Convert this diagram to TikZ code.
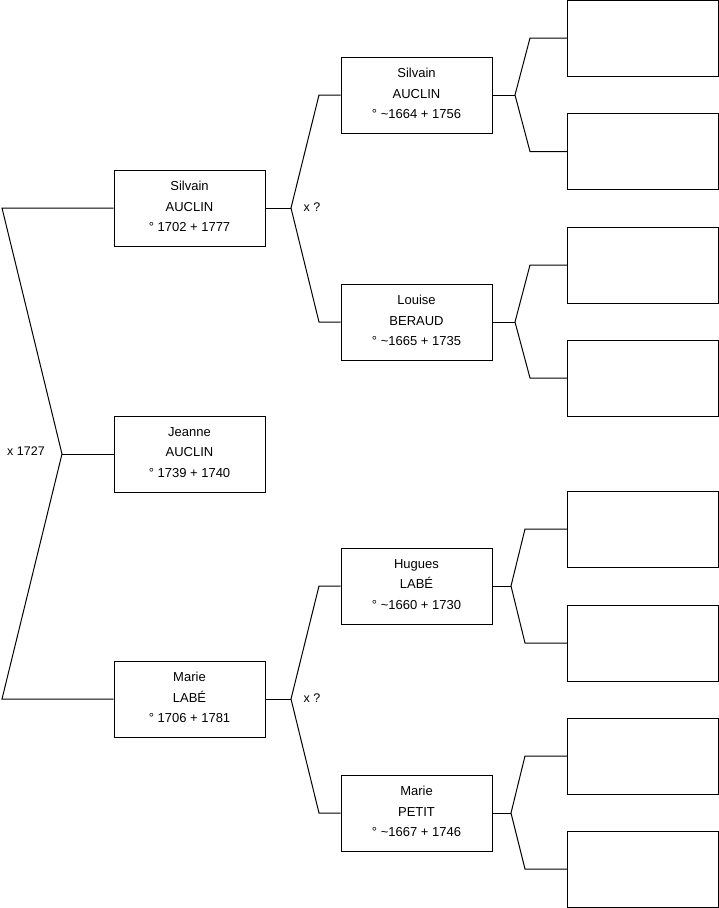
\documentclass[tikz,border=0pt]{standalone}
\usepackage{fontspec}
\setmainfont{Liberation Sans}
\begin{document}
\begin{tikzpicture}[x=1pt,y=-1pt,line width=1pt,
  person/.style={draw,minimum width=151pt,minimum height=76pt,inner sep=0pt,align=center,text depth=3pt,font=\fontsize{13}{20.3}\selectfont},
  empty/.style={draw,minimum width=151pt,minimum height=76pt,inner sep=0pt},
  lbl/.style={font=\fontsize{12.5}{14}\selectfont,inner sep=0pt}]
\useasboundingbox (0,0) rectangle (719,908);
% generation 1-2
\node[person] (jeanne) at (189.5,454) {Jeanne\\AUCLIN\\° 1739 + 1740};
\node[person] (silA) at (189.5,208) {Silvain\\AUCLIN\\° 1702 + 1777};
\node[person] (marL) at (189.5,699) {Marie\\LABÉ\\° 1706 + 1781};
% generation 3
\node[person] (silB) at (416.5,95) {Silvain\\AUCLIN\\° \textasciitilde1664 + 1756};
\node[person] (lou) at (416.5,322) {Louise\\BERAUD\\° \textasciitilde1665 + 1735};
\node[person] (hug) at (416.5,586) {Hugues\\LABÉ\\° \textasciitilde1660 + 1730};
\node[person] (marP) at (416.5,813) {Marie\\PETIT\\° \textasciitilde1667 + 1746};
% generation 4
\node[empty] (e1) at (643,38) {};
\node[empty] (e2) at (643,151.5) {};
\node[empty] (e3) at (643,265) {};
\node[empty] (e4) at (643,378) {};
\node[empty] (e5) at (643,529) {};
\node[empty] (e6) at (643,643) {};
\node[empty] (e7) at (643,756) {};
\node[empty] (e8) at (643,869) {};
% fork 1
\coordinate (v1) at (62,454);
\coordinate (a1) at (2,208);
\coordinate (b1) at (2,699);
\draw (silA.west) -- (a1) -- (v1) -- (b1) -- (marL.west);
\draw (v1) -- (jeanne.west);
\node[lbl] (m1) at (26,451) {x 1727};
% fork 2 (Silvain)
\coordinate (v2) at (291,208);
\coordinate (a2) at (319,95);
\coordinate (b2) at (319,322);
\draw (silA.east) -- (v2);
\draw (silB.west) -- (a2) -- (v2) -- (b2) -- (lou.west);
\node[lbl] (m2) at (312,207) {x ?};
% fork 3 (Marie)
\coordinate (v3) at (291,699);
\coordinate (a3) at (319,586);
\coordinate (b3) at (319,813);
\draw (marL.east) -- (v3);
\draw (hug.west) -- (a3) -- (v3) -- (b3) -- (marP.west);
\node[lbl] (m3) at (312,698) {x ?};
% forks gen 3 -> 4
\coordinate (v4) at (515,95);
\coordinate (a4) at (530,38);
\coordinate (b4) at (530,151.5);
\draw (silB.east) -- (v4);
\draw (e1.west) -- (a4) -- (v4) -- (b4) -- (e2.west);
\coordinate (v5) at (515,322);
\coordinate (a5) at (530,265);
\coordinate (b5) at (530,378);
\draw (lou.east) -- (v5);
\draw (e3.west) -- (a5) -- (v5) -- (b5) -- (e4.west);
\coordinate (v6) at (511,586);
\coordinate (a6) at (525,529);
\coordinate (b6) at (525,643);
\draw (hug.east) -- (v6);
\draw (e5.west) -- (a6) -- (v6) -- (b6) -- (e6.west);
\coordinate (v7) at (511,813);
\coordinate (a7) at (525,756);
\coordinate (b7) at (525,869);
\draw (marP.east) -- (v7);
\draw (e7.west) -- (a7) -- (v7) -- (b7) -- (e8.west);
\end{tikzpicture}
\end{document}
